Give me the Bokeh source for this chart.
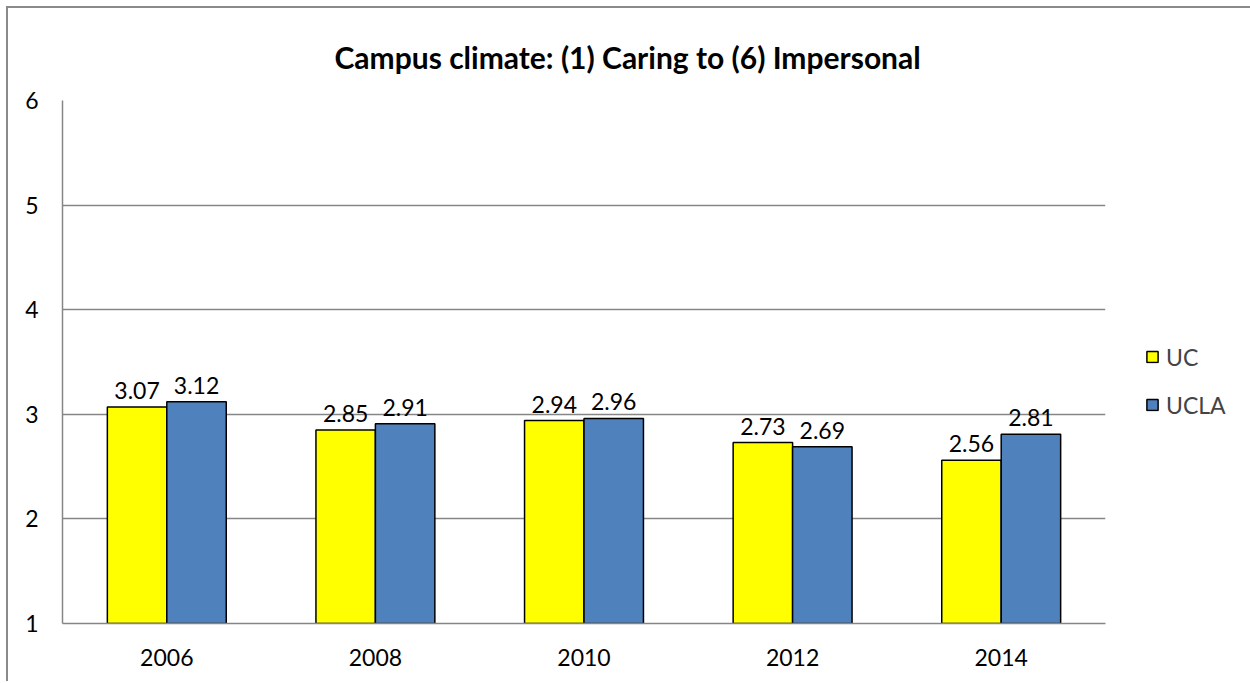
from bokeh.plotting import figure
from bokeh.models import (ColumnDataSource, FactorRange, Range1d, LabelSet, Legend,
                          LegendItem, FixedTicker)
from bokeh.transform import dodge
from bokeh.core.properties import value
from bokeh.embed import file_html
from bokeh.resources import INLINE

years = ["2006", "2008", "2010", "2012", "2014"]
uc = [3.07, 2.85, 2.94, 2.73, 2.56]
ucla = [3.12, 2.91, 2.96, 2.69, 2.81]
title_text = "Campus climate: (1) Caring to (6) Impersonal"
series_names = ["UC", "UCLA"]
y_ticks = [1, 2, 3, 4, 5, 6]

FONT = "Lato"
GRID = "#868686"

src = ColumnDataSource(dict(
    year=years, uc=uc, ucla=ucla,
    uc_lbl=[f"{v:.2f}" for v in uc], ucla_lbl=[f"{v:.2f}" for v in ucla],
))

p = figure(x_range=FactorRange(factors=years, range_padding=0),
           y_range=Range1d(1, 6),
           frame_width=1043, frame_height=523, output_backend="svg", toolbar_location=None,
           min_border_left=54, min_border_right=143, min_border_top=92, min_border_bottom=58)
p.styles = {"margin-left": "6px", "margin-top": "6px",
            "border-left": "2px solid #8a8a8a", "border-top": "2px solid #8a8a8a"}
p.outline_line_color = None
p.background_fill_color = "white"
p.border_fill_color = "white"

p.title.text = title_text
p.title.align = "left"
p.title.offset = 272
p.title.standoff = 52
p.title.text_font = FONT
p.title.text_font_size = "30px"
p.title.text_font_style = "bold"
p.title.text_color = "black"

bw = 0.285
r1 = p.vbar(x=dodge("year", -bw / 2, range=p.x_range), top="uc", bottom=1, width=bw, source=src,
            fill_color="#FFFF00", line_color="black", line_width=1.5)
r2 = p.vbar(x=dodge("year", bw / 2, range=p.x_range), top="ucla", bottom=1, width=bw, source=src,
            fill_color="#4F81BD", line_color="black", line_width=1.5)

for col, off in (("uc", -bw / 2), ("ucla", bw / 2)):
    p.add_layout(LabelSet(x=dodge("year", off, range=p.x_range), y=col, text=col + "_lbl",
                          source=src, text_align="center", text_baseline="bottom", y_offset=8,
                          text_font=value(FONT), text_font_size="23px", text_color="black"))

# axes
p.yaxis.ticker = FixedTicker(ticks=y_ticks)
p.yaxis.axis_line_color = GRID
p.yaxis.axis_line_width = 1.5
p.yaxis.major_tick_line_color = None
p.yaxis.minor_tick_line_color = None
p.yaxis.major_label_standoff = 18
p.yaxis.major_label_text_font = FONT
p.yaxis.major_label_text_font_size = "23px"
p.yaxis.major_label_text_color = "black"

p.xaxis.axis_line_color = GRID
p.xaxis.axis_line_width = 1.5
p.xaxis.major_tick_line_color = None
p.xaxis.minor_tick_line_color = None
p.xaxis.major_label_standoff = 19
p.xaxis.major_label_text_font = FONT
p.xaxis.major_label_text_font_size = "23px"
p.xaxis.major_label_text_color = "black"

p.xgrid.grid_line_color = None
p.ygrid.grid_line_color = GRID
p.ygrid.grid_line_width = 1.5
p.ygrid.ticker = FixedTicker(ticks=y_ticks)

legend = Legend(items=[LegendItem(label=series_names[0], renderers=[r1]),
                       LegendItem(label=series_names[1], renderers=[r2])],
                location="center_left", orientation="vertical",
                title=" ", title_text_font_size="23px", title_standoff=10,
                glyph_width=14, glyph_height=14, label_height=20, spacing=20,
                padding=0, margin=40, label_standoff=7,
                label_text_font=FONT, label_text_font_size="23px",
                border_line_color=None, background_fill_alpha=0)
p.add_layout(legend, "right")

open("out.html", "w").write(file_html(p, INLINE))
